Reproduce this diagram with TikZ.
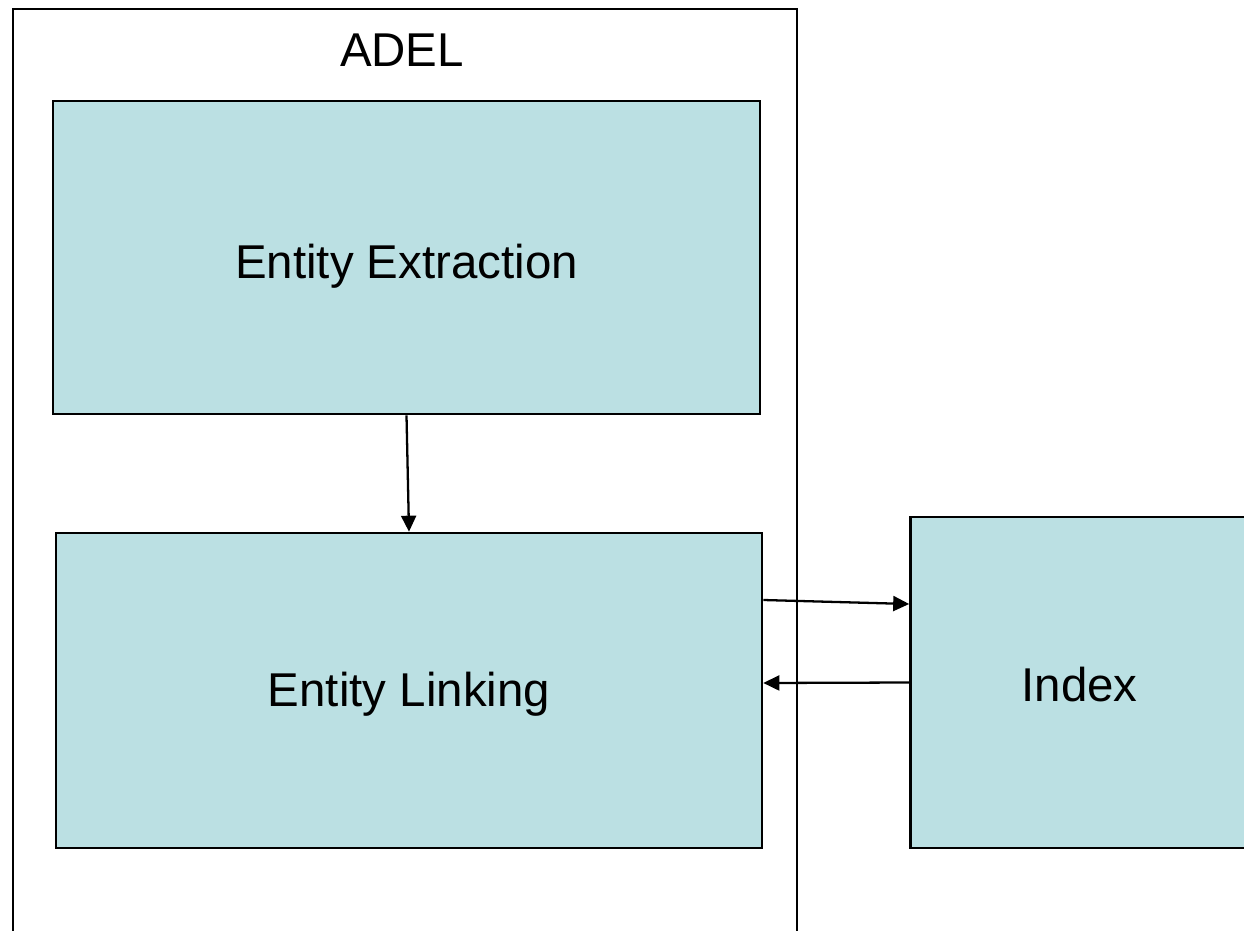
\documentclass[tikz,border=0pt]{standalone}
\usepackage{fontspec}
\setmainfont{Liberation Sans}
\usepackage{tikz}
\usetikzlibrary{arrows.meta,calc}
\definecolor{boxfill}{RGB}{187,224,227}
\tikzset{
  block/.style={draw=black,line width=1.5pt,fill=boxfill,inner sep=0pt},  % module box
  lbl/.style={font=\fontsize{27}{32}\selectfont},
  frame/.style={draw=black,line width=1.4pt},         % system boundary
  flow/.style={-{Triangle[length=3.2mm,width=3mm]},line width=1.3pt},
}

\begin{document}
\begin{tikzpicture}
  \useasboundingbox (0,0) rectangle (24.88,-18.62);
  \clip (0,0) rectangle (24.88,-18.62);
  % ADEL boundary, open at the bottom
  \draw[frame] (0.26,-19) -- (0.26,-0.18) -- (15.94,-0.18) -- (15.94,-19);
  \node[lbl] (adel) at (8.04,-1.0) {ADEL};

  \node[block,minimum width=14.14cm,minimum height=6.26cm] (extract) at (8.13,-5.15) {};
  \node[block,minimum width=14.12cm,minimum height=6.3cm] (link) at (8.18,-13.81) {};
  \node[block,minimum width=6.78cm,minimum height=6.62cm] (index) at (21.6,-13.65) {};
  \node[lbl] (extractlbl) at ([yshift=-0.18cm]extract.center) {Entity Extraction};
  \node[lbl] (linklbl) at ([yshift=-0.08cm]link.center) {Entity Linking};
  \node[lbl] (indexlbl) at (21.59,-13.7) {Index};

  \draw[flow] (extract.south) -- (link.north);
  \draw[flow] ([yshift=1.81cm]link.east) -- ([yshift=1.57cm]index.west);
  \draw[flow] (index.west) -- ([yshift=0.15cm]link.east);
\end{tikzpicture}
\end{document}
